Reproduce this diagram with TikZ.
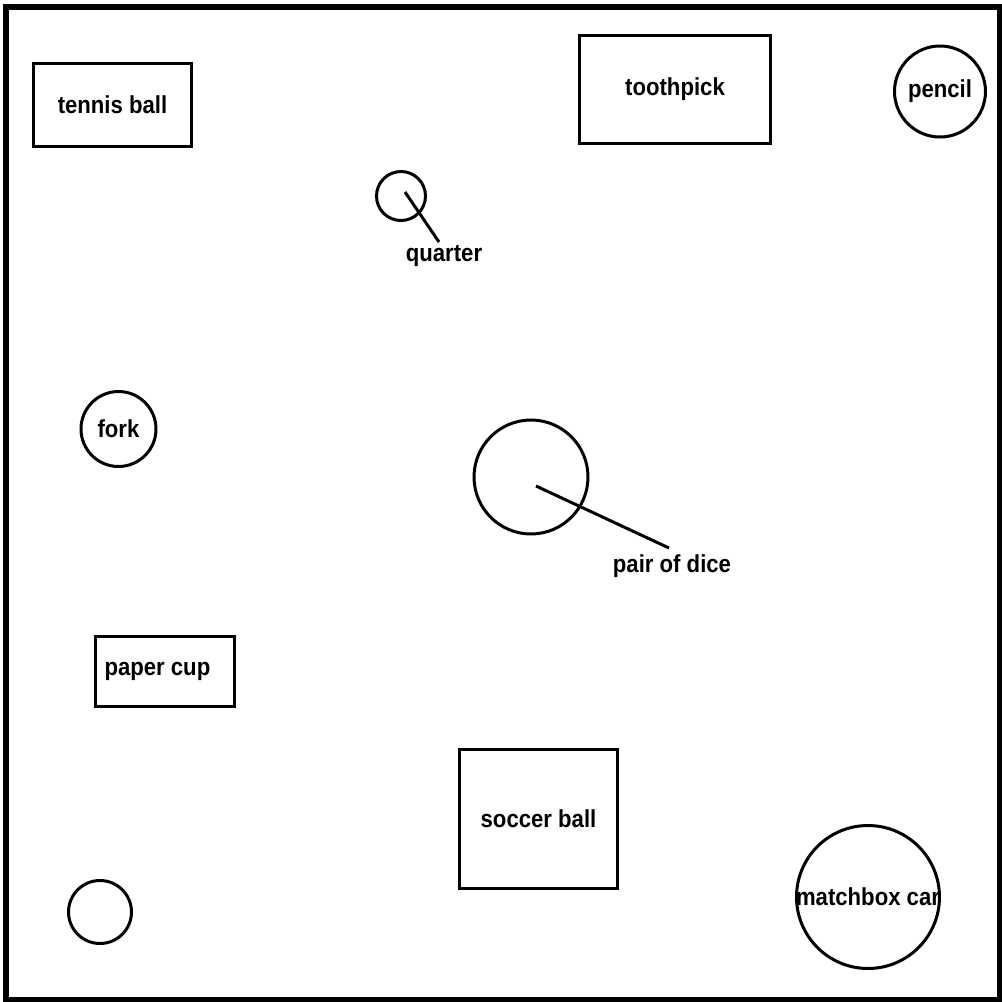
\documentclass[tikz,border=0pt]{standalone}
\usepackage{fontspec}
\setmainfont{Liberation Sans}[FakeStretch=0.9]
\usetikzlibrary{positioning}

\begin{document}
\begin{tikzpicture}[x=0.02cm,y=-0.02cm,font=\fontsize{14}{16}\selectfont\bfseries,
  obj/.style={draw,line width=0.06cm},
  box/.style={obj,rectangle,inner sep=0pt},
  lbl/.style={inner sep=0pt}]
\useasboundingbox (0,0) rectangle (1002,1002);
\draw[line width=0.11cm] (6,7) rectangle (999.5,999.5);
% boxes
\node[box,minimum width=3.16cm,minimum height=1.66cm] (tennis) at (112.5,105) {tennis ball};
\node[box,minimum width=3.82cm,minimum height=2.18cm] (toothpick) at (675,89.5) {toothpick};
\node[box,text width=2.42cm,inner xsep=0.19cm,align=flush left,minimum height=1.40cm] (cup) at (165,671.5) {paper cup};
\node[box,minimum width=3.16cm,minimum height=2.78cm] (soccer) at (538.5,819) {soccer ball};
% circles
\node[lbl] (pencil) at (940,91.5) {pencil};
\draw[obj] (pencil) circle (0.91cm);
\node[lbl] (fork) at (118.5,429) {fork};
\draw[obj] (fork) circle (0.75cm);
\node[lbl] (car) at (868,897) {matchbox car};
\draw[obj] (car) circle (1.43cm);
\coordinate (coin) at (401,196);
\draw[obj] (coin) circle (0.49cm);
\coordinate (dice) at (531,477);
\draw[obj] (dice) circle (1.14cm);
\coordinate (blank) at (100,912);
\draw[obj] (blank) circle (0.63cm);
% pointers
\node[lbl] (quarter) at (444,256) {quarter};
\node[lbl] (pair) at (672,566) {pair of dice};
\coordinate (q0) at (405,192);
\coordinate (q1) at (439,242);
\coordinate (d0) at (536,486);
\coordinate (d1) at (669,548);
\draw[obj] (q0) -- (q1);
\draw[obj] (d0) -- (d1);
\end{tikzpicture}
\end{document}
